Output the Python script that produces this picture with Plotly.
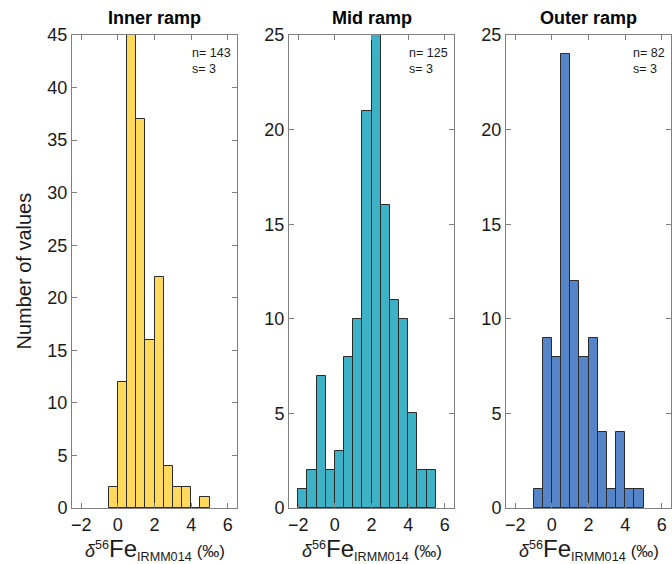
import plotly.graph_objects as go

# ---- data ----
panel_titles = ["Inner ramp", "Mid ramp", "Outer ramp"]
bin_width = 0.5
inner_start = -0.5
inner_counts = [2, 12, 45, 37, 16, 22, 4, 2, 2, 0, 1]
mid_start = -2.0
mid_counts = [1, 2, 7, 2, 3, 8, 10, 21, 25, 16, 11, 10, 5, 2, 2]
outer_start = -1.0
outer_counts = [1, 9, 8, 24, 12, 8, 9, 4, 1, 4, 1, 1]
n_values = [143, 125, 82]
s_values = [3, 3, 3]
y_max = [45, 25, 25]
x_ticks = [-2, 0, 2, 4, 6]
colors = ["#FFD95C", "#3DB2C7", "#5684C9"]

starts = [inner_start, mid_start, outer_start]
counts = [inner_counts, mid_counts, outer_counts]

W, H = 672, 564
x_domains = [(72, 237), (289, 454), (506, 671)]
y_top, y_bot = 35, 508
FONT = "Liberation Sans, Arial, sans-serif"
TXT = "#1a1a1a"

x_title = ("<i>δ</i><sup>56</sup><span style='font-size:24px'>Fe</span>"
           "<sub>IRMM014</sub> <span style='font-size:17px'>(‰)</span>")

fig = go.Figure()
annotations = []
for i in range(3):
    centers = [starts[i] + bin_width * (k + 0.5) for k in range(len(counts[i]))]
    ax = "" if i == 0 else str(i + 1)
    fig.add_trace(go.Bar(
        x=centers, y=counts[i], width=bin_width,
        marker=dict(color=colors[i], line=dict(color="#2b2b2b", width=1)),
        xaxis="x" + ax, yaxis="y" + ax, showlegend=False,
    ))
    d0, d1 = x_domains[i]
    axis_common = dict(
        showline=True, linecolor="#808080", linewidth=1, mirror="ticks",
        ticks="inside", ticklen=5, tickcolor="#808080", showgrid=False,
        zeroline=False, tickfont=dict(family=FONT, size=18, color=TXT),
        automargin=False,
    )
    fig.layout["xaxis" + ax] = dict(
        domain=[d0 / W, d1 / W], range=[-2.5, 6.5], tickvals=x_ticks,
        anchor="y" + ax, **axis_common,
    )
    fig.layout["yaxis" + ax] = dict(
        domain=[1 - y_bot / H, 1 - y_top / H], range=[0, y_max[i]],
        dtick=5, anchor="x" + ax, **axis_common,
    )
    annotations.append(dict(
        text="<b>%s</b>" % panel_titles[i], xref="paper", yref="paper",
        x=(d0 + d1) / 2 / W, y=1 - 18 / H, showarrow=False,
        font=dict(family=FONT, size=18, color="#000000"),
        xanchor="center", yanchor="middle",
    ))
    annotations.append(dict(
        text="n= %d<br>s= %d" % (n_values[i], s_values[i]),
        xref="paper", yref="paper", x=(d1 - 4) / W, y=1 - 44 / H,
        showarrow=False, align="left", xanchor="right", yanchor="top",
        font=dict(family=FONT, size=12.5, color=TXT),
    ))
    annotations.append(dict(
        text=x_title, xref="paper", yref="paper",
        x=(d0 + d1) / 2 / W, y=1 - 549 / H, showarrow=False,
        xanchor="center", yanchor="middle",
        font=dict(family=FONT, size=18, color=TXT),
    ))

annotations.append(dict(
    text="Number of values", xref="paper", yref="paper",
    x=23 / W, y=(1 - (y_top + y_bot) / 2 / H), textangle=-90,
    showarrow=False, xanchor="center", yanchor="middle",
    font=dict(family=FONT, size=20, color=TXT),
))

fig.update_layout(
    width=W, height=H, margin=dict(l=0, r=0, t=0, b=0, pad=0, autoexpand=False),
    paper_bgcolor="white", plot_bgcolor="white",
    bargap=0, annotations=annotations,
    font=dict(family=FONT),
)
fig.write_html(
    "out.html",
    config={"displayModeBar": False},
    post_script="document.body.style.margin='0';document.body.style.overflow='hidden';",
)
